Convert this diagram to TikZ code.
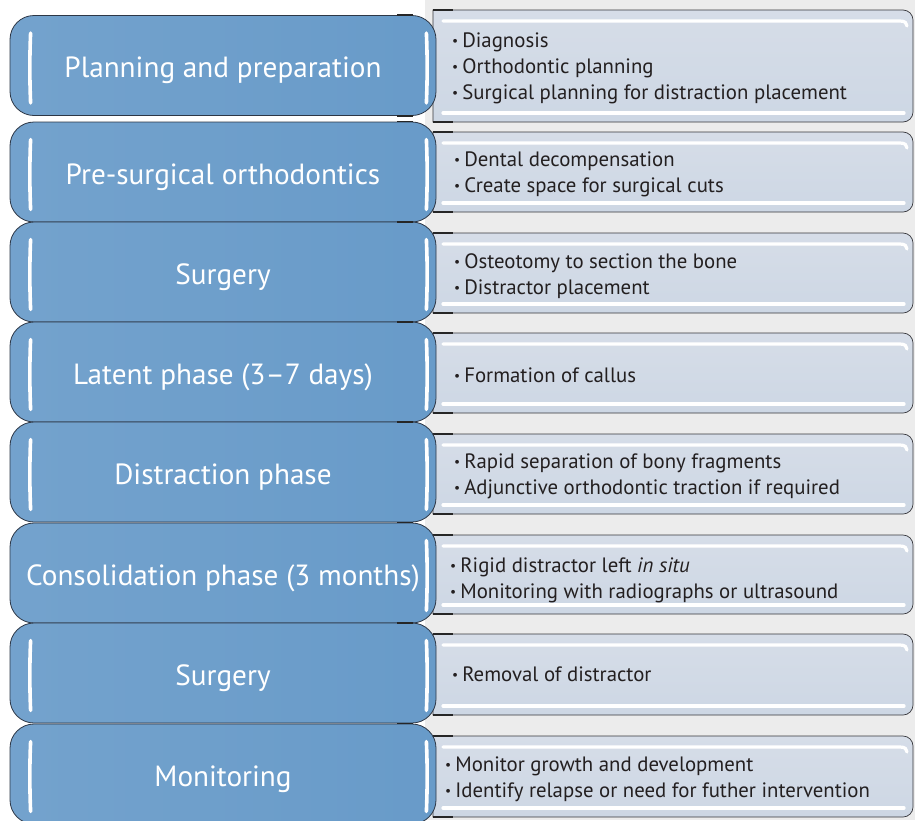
\documentclass[tikz,border=0pt]{standalone}
\usepackage{fontspec}
\setmainfont{PT Sans}
\definecolor{phaseblue}{RGB}{91,146,196}
\definecolor{phaseedge}{RGB}{45,55,70}
\definecolor{notefill}{RGB}{205,215,228}
\definecolor{notetop}{RGB}{214,221,232}
\definecolor{noteedge}{RGB}{55,55,60}
\definecolor{gapgray}{RGB}{236,236,236}
\definecolor{inktext}{RGB}{35,31,32}
\newcommand\bul{\raisebox{0.2ex}{\scalebox{0.65}{\textbullet}}\hspace{4pt}}
\begin{document}
\begin{tikzpicture}[x=1pt,y=-1pt,
  phase/.style={draw=phaseedge, line width=0.8pt, rounded corners=24pt,
    left color=phaseblue!85!white, middle color=phaseblue, right color=phaseblue!92!white,
    shading angle=90,
    minimum width=426pt, minimum height=100pt, inner sep=0pt,
    text height=24pt, text depth=0pt,
    text=white, font=\fontsize{29.2}{33}\selectfont},
  note/.style={anchor=west, align=left, inner sep=0pt, text=inktext,
    font=\fontsize{20.8}{26}\selectfont},
  noteframe/.style={draw=noteedge, line width=0.7pt, top color=notetop, bottom color=notefill},
  gloss/.style={white, line width=3.2pt, line cap=round},
  tab/.style={black!85, line width=1.6pt}]

% canvas and the grey strip behind the note column
\fill[white] (0,0) rectangle (915,820);
\fill[gapgray] (425,0) rectangle (915,820);
\useasboundingbox (0,0) rectangle (915,820);

% note frames: square on the left, rounded on the right
\foreach \rt/\rb in {10/122, 132/212, 233/313, 333/413, 434/514, 535/614, 634/715, 736/817}{
  \draw[noteframe] (433,\rb) -- (433,\rt) [rounded corners=10pt] -- (913,\rt) -- (913,\rb) [sharp corners] -- cycle;
  \draw[gloss] (443,\rt+11) -- (900,\rt+11) .. controls (905,\rt+11) and (907,\rt+13) .. (907,\rt+16);
  \draw[gloss] (443,\rb-9) -- (904,\rb-9);
  \draw[tab] (433,\rt) -- (453,\rt);
  \draw[tab] (433,\rb) -- (453,\rb);
}

% phase boxes
\node[phase] (l1) at (223,65.5) {Planning and preparation};
\node[phase] (l2) at (223,172) {Pre-surgical orthodontics};
\node[phase] (l3) at (223,272) {Surgery};
\node[phase] (l4) at (223,372) {Latent phase (3–7 days)};
\node[phase] (l5) at (223,472) {Distraction phase};
\node[phase] (l6) at (223,573) {Consolidation phase (3 months)};
\node[phase] (l7) at (223,673) {Surgery};
\node[phase] (l8) at (223,774) {Monitoring};

% glossy strips inside the phase boxes
\foreach \b in {l1,l2,l3,l4,l5,l7,l8}{
  \draw[gloss, line width=3.6pt] ([xshift=21pt,yshift=-18pt]\b.north west)
    .. controls ([xshift=20pt,yshift=-42pt]\b.north west) and ([xshift=20pt,yshift=38pt]\b.south west)
    .. ([xshift=21pt,yshift=13pt]\b.south west);
}
\foreach \b in {l1,l2,l3,l4,l5,l6,l7,l8}{
  \draw[gloss, line width=3.6pt] ([xshift=-10pt,yshift=-18pt]\b.north east)
    .. controls ([xshift=-9pt,yshift=-42pt]\b.north east) and ([xshift=-9pt,yshift=38pt]\b.south east)
    .. ([xshift=-10pt,yshift=13pt]\b.south east);
  \draw[tab] ([xshift=-39pt]\b.north east) -- ([xshift=-23pt]\b.north east);
  \draw[tab] ([xshift=-39pt]\b.south east) -- ([xshift=-23pt]\b.south east);
}

% notes
\node[note] (t1) at (452,68) {\bul Diagnosis\\\bul Orthodontic planning\\\bul Surgical planning for distraction placement};
\node[note] (t2) at (454,174) {\bul Dental decompensation\\\bul Create space for surgical cuts};
\node[note] (t3) at (454,276) {\bul Osteotomy to section the bone\\\bul Distractor placement};
\node[note] (t4) at (454,375) {\bul Formation of callus};
\node[note] (t5) at (454,476) {\bul Rapid separation of bony fragments\\\bul Adjunctive orthodontic traction if required};
\node[note] (t6) at (450,580) {\bul Rigid distractor left \textit{in situ}\\\bul Monitoring with radiographs or ultrasound};
\node[note] (t7) at (452,674) {\bul Removal of distractor};
\node[note] (t8) at (445,779) {\bul Monitor growth and development\\\bul Identify relapse or need for futher intervention};
\end{tikzpicture}
\end{document}
